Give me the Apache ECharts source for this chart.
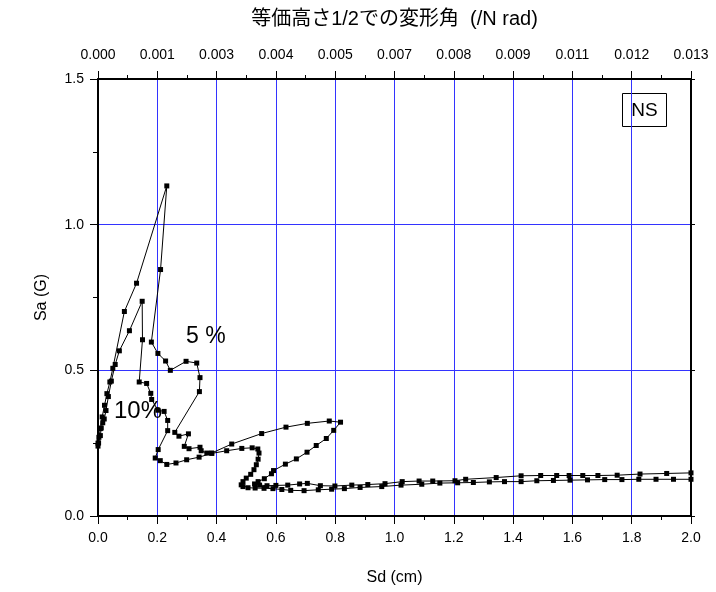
<!DOCTYPE html>
<html>
<head>
<meta charset="utf-8">
<script src="https://cdn.jsdelivr.net/npm/echarts@6/dist/echarts.min.js"></script>
<style>
html,body{margin:0;padding:0;background:#fff;}
#c{width:716px;height:592px;}
</style>
</head>
<body>
<div id="c"></div>
<script>
// Bottom axis ticks (Sd, cm) and top axis tick labels (drift angle)
var sdTicks = [0.0,0.2,0.4,0.6,0.8,1.0,1.2,1.4,1.6,1.8,2.0];
var topLabels = ['0.000','0.001','0.003','0.004','0.005','0.007','0.008','0.009','0.011','0.012','0.013'];
var saTicks = [0.0,0.5,1.0,1.5];

// h = 5% damping curve
var sd5 = [0.000,0.003,0.008,0.014,0.022,0.030,0.040,0.050,0.089,0.130,0.232,0.211,0.180,0.202,0.228,0.244,0.297,0.333,0.344,0.342,0.259,0.273,0.305,0.291,0.307,0.344,0.348,0.367,0.383,0.451,0.552,0.634,0.706,0.780,0.818,0.795,0.770,0.736,0.705,0.669,0.632,0.592,0.585,0.561,0.540,0.528,0.545,0.570,0.600,0.640,0.680,0.706,0.750,0.799,0.856,0.910,0.968,1.026,1.083,1.129,1.204,1.240,1.343,1.427,1.493,1.547,1.589,1.635,1.686,1.751,1.828,1.918,2.000];
var sa5 = [0.250,0.270,0.300,0.340,0.380,0.420,0.460,0.507,0.702,0.799,1.133,0.846,0.597,0.558,0.532,0.500,0.531,0.525,0.475,0.427,0.287,0.274,0.282,0.239,0.231,0.236,0.224,0.216,0.216,0.247,0.283,0.305,0.318,0.326,0.322,0.294,0.266,0.242,0.219,0.196,0.178,0.156,0.145,0.128,0.118,0.110,0.106,0.104,0.105,0.106,0.110,0.112,0.104,0.103,0.106,0.108,0.111,0.118,0.120,0.120,0.121,0.126,0.132,0.138,0.139,0.139,0.139,0.139,0.139,0.140,0.144,0.146,0.148];

// h = 10% damping curve
var sd10 = [0.000,0.002,0.008,0.011,0.016,0.021,0.027,0.035,0.045,0.058,0.072,0.106,0.149,0.150,0.139,0.164,0.178,0.181,0.202,0.223,0.235,0.235,0.203,0.193,0.210,0.232,0.263,0.299,0.341,0.384,0.434,0.485,0.520,0.539,0.543,0.540,0.534,0.526,0.515,0.500,0.489,0.483,0.489,0.506,0.530,0.560,0.590,0.620,0.650,0.695,0.743,0.788,0.831,0.884,0.957,1.022,1.092,1.153,1.213,1.266,1.320,1.371,1.427,1.480,1.536,1.592,1.651,1.709,1.767,1.824,1.882,1.941,2.000];
var sa10 = [0.240,0.251,0.276,0.302,0.320,0.333,0.362,0.410,0.463,0.520,0.567,0.636,0.737,0.605,0.460,0.455,0.421,0.400,0.363,0.359,0.328,0.293,0.228,0.199,0.190,0.177,0.182,0.193,0.202,0.215,0.224,0.232,0.234,0.230,0.216,0.195,0.176,0.159,0.143,0.130,0.118,0.107,0.101,0.097,0.096,0.095,0.094,0.091,0.088,0.087,0.090,0.092,0.094,0.098,0.101,0.106,0.109,0.113,0.114,0.115,0.117,0.118,0.118,0.121,0.122,0.123,0.124,0.125,0.125,0.126,0.126,0.126,0.126];

function pairs(xs, ys){ return xs.map(function(x,i){ return [x, ys[i]]; }); }

var FONT = '"Liberation Sans", Arial, "Noto Sans CJK JP", sans-serif';
var chart = echarts.init(document.getElementById('c'), null, {renderer:'canvas'});

var axisBase = {
  type:'value', min:0, max:2.0, interval:0.2,
  axisLine:{show:true, onZero:false, lineStyle:{color:'#000', width:2}},
  axisTick:{show:true, inside:false, length:8, lineStyle:{color:'#000', width:1}},
  minorTick:{show:true, splitNumber:2, length:4, lineStyle:{color:'#000', width:1}},
  axisLabel:{color:'#000', fontFamily:FONT, fontSize:14},
  splitLine:{show:false}
};

var option = {
  animation:false,
  backgroundColor:'#fff',
  grid:{left:98, right:25, top:79, bottom:76, containLabel:false},
  xAxis:[
    Object.assign({}, axisBase, {
      position:'bottom',
      name:'Sd (cm)', nameLocation:'middle', nameGap:54,
      nameTextStyle:{color:'#000', fontFamily:FONT, fontSize:16},
      axisLabel:{color:'#000', fontFamily:FONT, fontSize:14, margin:15,
        formatter:function(v){ return v.toFixed(1); }},
      splitLine:{show:true, showMinLine:false, showMaxLine:false, lineStyle:{color:'#3333ff', width:1}}
    }),
    Object.assign({}, axisBase, {
      position:'top',
      name:'等価高さ1/2での変形角  (/N rad)', nameLocation:'middle', nameGap:50,
      nameTextStyle:{color:'#000', fontFamily:'"Liberation Sans","Noto Sans CJK JP",sans-serif', fontSize:20},
      axisLabel:{color:'#000', fontFamily:FONT, fontSize:14, margin:17,
        formatter:function(v){ var i = Math.round(v/0.2); return topLabels[i] || ''; }}
    })
  ],
  yAxis:[
    {
      type:'value', min:0, max:1.5, interval:0.5, position:'left',
      name:'Sa (G)', nameLocation:'middle', nameGap:48,
      nameTextStyle:{color:'#000', fontFamily:FONT, fontSize:16},
      axisLine:{show:true, onZero:false, lineStyle:{color:'#000', width:2}},
      axisTick:{show:true, inside:false, length:8, lineStyle:{color:'#000', width:1}},
      minorTick:{show:true, splitNumber:2, length:5, lineStyle:{color:'#000', width:1}},
      axisLabel:{color:'#000', fontFamily:FONT, fontSize:14, margin:14,
        formatter:function(v){ return v.toFixed(1); }},
      splitLine:{show:true, showMinLine:false, showMaxLine:false, lineStyle:{color:'#3333ff', width:1}}
    },
    {
      type:'value', min:0, max:1.5, interval:0.5, position:'right',
      axisLine:{show:true, onZero:false, lineStyle:{color:'#000', width:2}},
      axisTick:{show:true, inside:false, length:4, lineStyle:{color:'#000', width:1}},
      minorTick:{show:false},
      axisLabel:{show:false},
      splitLine:{show:false}
    }
  ],
  series:[
    {
      name:'5%', type:'line', xAxisIndex:0, yAxisIndex:0,
      data:pairs(sd5, sa5),
      symbol:'rect', symbolSize:5, showSymbol:true,
      lineStyle:{color:'#000', width:1},
      itemStyle:{color:'#000'},
      z:5
    },
    {
      name:'10%', type:'line', xAxisIndex:0, yAxisIndex:0,
      data:pairs(sd10, sa10),
      symbol:'rect', symbolSize:5, showSymbol:true,
      lineStyle:{color:'#000', width:1},
      itemStyle:{color:'#000'},
      z:5
    }
  ],
  graphic:[
    {type:'text', left:186, top:325, z:10,
      style:{text:'5 %', fill:'#000', font:'23px "Liberation Sans Narrow", "Liberation Sans", Arial, sans-serif'}},
    {type:'text', left:114, top:399, z:10,
      style:{text:'10%', fill:'#000', font:'24px "Liberation Sans Narrow", "Liberation Sans", Arial, sans-serif'}},
    {type:'group', left:622, top:93, z:10, children:[
      {type:'rect', shape:{x:0, y:0, width:44, height:33},
        style:{fill:'#fff', stroke:'#000', lineWidth:1}},
      {type:'text', x:22, y:17, style:{text:'NS', fill:'#000', align:'center', verticalAlign:'middle',
        font:'19px "Liberation Sans", Arial, sans-serif'}}
    ]}
  ]
};
chart.setOption(option);
</script>
</body>
</html>
